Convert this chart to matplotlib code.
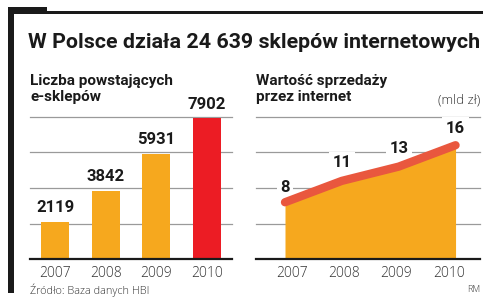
import matplotlib
matplotlib.use("Agg")
import matplotlib.pyplot as plt
import matplotlib.patches as patches

# dane
years = ["2007", "2008", "2009", "2010"]
shops = [2119, 3842, 5931, 7902]
sales = [8, 11, 13, 16]

W, H = 494, 304
ORANGE = "#F6A81E"
RED = "#EC1C24"
LINE = "#E9573E"
GRID = "#9a9a9a"

plt.rcParams["font.family"] = ["Open Sans", "DejaVu Sans"]
BOLD = ["Roboto", "DejaVu Sans"]


def box(x0, y0, x1, y1):
    # piksele -> współrzędne figury
    return [x0 / W, 1 - y1 / H, (x1 - x0) / W, (y1 - y0) / H]


fig = plt.figure(figsize=(W / 100, H / 100), dpi=100)

# ramka w lewym górnym rogu
for x0, y0, x1, y1 in [(8, 7, 14, 293), (8, 7, 47, 14), (47, 10.5, 483, 13.5)]:
    fig.add_artist(patches.Rectangle((x0 / W, 1 - y1 / H), (x1 - x0) / W, (y1 - y0) / H,
                                     transform=fig.transFigure, color="#1a1a1a", lw=0))

fig.text(28 / W, 1 - 43 / H, "W Polsce działa 24 639 sklepów internetowych",
         family=BOLD, weight="bold", fontsize=15.4, va="center", ha="left", color="#1a1a1a")


def style(ax, ticks):
    for s in ax.spines.values():
        s.set_visible(False)
    ax.axhline(0, color="#1a1a1a", lw=1.6, zorder=5, clip_on=False)
    for t in ticks:
        ax.axhline(t, color=GRID, lw=0.9, zorder=0, clip_on=False)
    ax.set_yticks([])
    ax.tick_params(axis="x", length=0, pad=5, labelsize=10, labelcolor="#333333")
    for lab in ax.get_xticklabels():
        lab.set_fontweight("light")


# lewy wykres - słupki
ax1 = fig.add_axes(box(30, 116.7, 232, 259.3))
x = list(range(len(years)))
ax1.bar(x, shops, width=0.56, color=[ORANGE] * 3 + [RED], zorder=2)
ax1.set_xlim(-0.5, 3.5)
ax1.set_ylim(0, 8000)
ax1.set_xticks(x, years)
style(ax1, [2000, 4000, 6000, 8000])
for xi, v in zip(x, shops):
    ax1.annotate(str(v), (xi, v), xytext=(0, 5), textcoords="offset points",
                 ha="center", va="bottom", fontsize=12, weight="bold",
                 family=BOLD, color="#1a1a1a")

# prawy wykres - obszar z linią
ax2 = fig.add_axes(box(256, 116.7, 480, 259.3))
ax2.fill_between(x, sales, 0, color=ORANGE, lw=0, zorder=1)
ax2.plot(x, sales, color=LINE, lw=6, solid_capstyle="round", zorder=7)
ax2.set_xlim(-0.51, 3.43)
ax2.set_ylim(0, 20)
ax2.set_xticks([1.5 + (i - 1.5) * 0.92 for i in x], years)
style(ax2, [5, 10, 15, 20])
offs = [10.8, 13, 12.7, 12.2]
for xi, v, o in zip(x, sales, offs):
    ax2.annotate(str(v), (xi, v), xytext=(0, o), textcoords="offset points",
                 ha="center", va="center", fontsize=12, weight="bold",
                 family=BOLD, color="#1a1a1a",
                 bbox=dict(facecolor="white", edgecolor="none", pad=2.5), zorder=6)

# podtytuły i podpisy
fig.text(30 / W, 1 - 89 / H, "Liczba powstających\ne-sklepów", fontsize=11,
         weight="bold", family=BOLD, va="center", ha="left", linespacing=1.1,
         color="#1a1a1a")
fig.text(256 / W, 1 - 89 / H, "Wartość sprzedaży\nprzez internet", fontsize=11,
         weight="bold", family=BOLD, va="center", ha="left", linespacing=1.1,
         color="#1a1a1a")
fig.text(480 / W, 1 - 100 / H, "(mld zł)", fontsize=9.5, weight="light",
         va="center", ha="right", color="#333333")
fig.text(30 / W, 1 - 290 / H, "Źródło: Baza danych HBI", fontsize=7.8, weight="light",
         va="center", ha="left", color="#333333")
fig.text(480 / W, 1 - 290 / H, "RM", fontsize=6.5, weight="light",
         va="center", ha="right", color="#333333")

fig.savefig("out.png", dpi=100, facecolor="white")
